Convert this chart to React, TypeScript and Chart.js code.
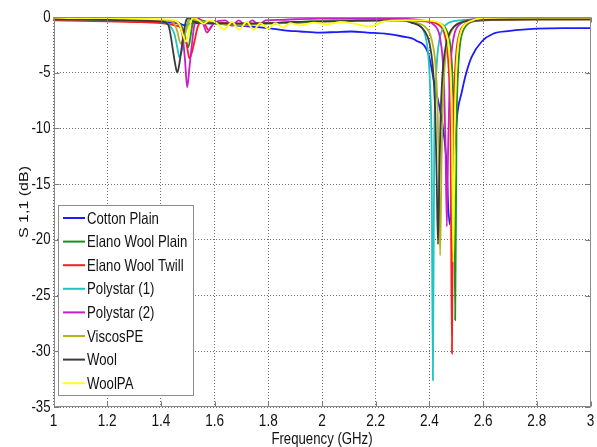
import React, { useEffect, useRef } from 'react';
import { Chart, registerables } from 'chart.js';

Chart.register(...registerables);

type Pt = [number, number]; // [frequency GHz, S11 dB]

const seriesNames = [
  'Cotton Plain',
  'Elano Wool Plain',
  'Elano Wool Twill',
  'Polystar (1)',
  'Polystar (2)',
  'ViscosPE',
  'Wool',
  'WoolPA',
];

const seriesColors = ['#1c1cff', '#1f8f1f', '#ff1c1c', '#1fc4c4', '#c81ec8', '#b4b41a', '#3a3a3a', '#ffff1a'];

const cottonPlain: Pt[] = [
  [1.0, -0.2], [1.1, -0.25], [1.2, -0.3], [1.3, -0.35], [1.38, -0.45], [1.44, -0.5], [1.47, -0.6],
  [1.49, -0.75], [1.51, -0.6], [1.54, -0.55], [1.6, -0.6], [1.7, -0.8], [1.8, -1.0], [1.86, -1.2],
  [1.92, -1.3], [1.99, -1.4], [2.05, -1.35], [2.11, -1.3], [2.17, -1.4], [2.235, -1.5], [2.3, -1.75],
  [2.35, -2.1], [2.396, -3.3], [2.421, -6.3], [2.446, -9.2], [2.462, -12.5], [2.475, -18.6],
  [2.49, -13.2], [2.505, -8.5], [2.52, -6.8], [2.533, -5.4], [2.557, -3.6], [2.595, -2.2],
  [2.637, -1.5], [2.7, -1.25], [2.8, -1.05], [2.9, -1.0], [3.0, -1.0],
];

const elanoWoolPlain: Pt[] = [
  [1.0, -0.15], [1.1, -0.2], [1.2, -0.2], [1.3, -0.25], [1.4, -0.3], [1.45, -0.35], [1.47, -0.6],
  [1.485, -1.3], [1.495, -2.3], [1.502, -2.7], [1.51, -1.8], [1.518, -0.6], [1.53, -0.1], [1.55, -0.3],
  [1.6, -0.5], [1.7, -0.6], [1.8, -0.55], [1.9, -0.45], [2.0, -0.35], [2.1, -0.3], [2.2, -0.3],
  [2.3, -0.3], [2.396, -0.4], [2.436, -0.55], [2.456, -0.85], [2.466, -1.3], [2.476, -2.2],
  [2.481, -3.3], [2.486, -5.4], [2.491, -10.2], [2.496, -27.2], [2.501, -10.1], [2.506, -5.3],
  [2.511, -3.2], [2.516, -2.1], [2.526, -1.2], [2.536, -0.8], [2.556, -0.45], [2.6, -0.3],
  [2.7, -0.2], [2.8, -0.15], [3.0, -0.15],
];

const elanoWoolTwill: Pt[] = [
  [1.0, -0.3], [1.1, -0.35], [1.2, -0.4], [1.3, -0.45], [1.4, -0.55], [1.45, -0.75], [1.475, -1.0],
  [1.49, -1.7], [1.499, -2.9], [1.506, -3.7], [1.515, -3.2], [1.525, -2.2], [1.537, -0.9],
  [1.55, -0.45], [1.565, -0.7], [1.578, -1.2], [1.59, -0.8], [1.6, -0.5], [1.7, -0.6], [1.8, -0.55],
  [1.9, -0.5], [2.0, -0.4], [2.1, -0.35], [2.2, -0.3], [2.3, -0.3], [2.384, -0.4], [2.424, -0.55],
  [2.444, -0.9], [2.454, -1.35], [2.464, -2.4], [2.469, -3.55], [2.474, -5.75], [2.479, -10.7],
  [2.484, -30.2], [2.489, -10.6], [2.494, -5.7], [2.499, -3.5], [2.504, -2.35], [2.514, -1.3],
  [2.524, -0.85], [2.544, -0.5], [2.6, -0.3], [2.7, -0.25], [2.8, -0.22], [3.0, -0.22],
];

const polystar1: Pt[] = [
  [1.0, -0.2], [1.1, -0.2], [1.2, -0.25], [1.3, -0.3], [1.4, -0.4], [1.43, -0.7], [1.45, -1.5],
  [1.46, -2.6], [1.469, -3.6], [1.478, -3.0], [1.488, -1.8], [1.5, -0.5], [1.51, -0.05], [1.525, -0.3],
  [1.55, -0.5], [1.6, -0.6], [1.7, -0.7], [1.8, -0.6], [1.9, -0.5], [2.0, -0.35], [2.1, -0.3],
  [2.2, -0.25], [2.313, -0.35], [2.353, -0.6], [2.373, -1.0], [2.383, -1.5], [2.393, -2.8],
  [2.398, -4.1], [2.403, -6.5], [2.408, -11.6], [2.413, -32.6], [2.418, -11.5], [2.423, -6.4],
  [2.428, -4.0], [2.433, -2.7], [2.443, -1.45], [2.453, -0.95], [2.473, -0.5], [2.513, -0.3],
  [2.6, -0.2], [2.8, -0.18], [3.0, -0.18],
];

const polystar2: Pt[] = [
  [1.0, -0.15], [1.1, -0.18], [1.2, -0.2], [1.3, -0.25], [1.4, -0.3], [1.45, -0.4], [1.47, -0.8],
  [1.48, -1.6], [1.489, -3.6], [1.498, -6.3], [1.506, -4.6], [1.514, -2.8], [1.524, -0.8],
  [1.539, -0.15], [1.555, -0.45], [1.572, -1.4], [1.586, -0.9], [1.6, -0.5], [1.64, -0.3],
  [1.665, -0.8], [1.69, -0.3], [1.715, -0.8], [1.74, -0.3], [1.765, -0.7], [1.79, -0.3], [1.85, -0.25],
  [1.9, -0.2], [2.0, -0.15], [2.1, -0.12], [2.2, -0.12], [2.3, -0.15], [2.365, -0.25], [2.405, -0.5],
  [2.425, -0.9], [2.435, -1.4], [2.445, -2.7], [2.45, -4.0], [2.455, -6.4], [2.46, -11.5],
  [2.465, -18.8], [2.47, -11.4], [2.475, -6.3], [2.48, -3.9], [2.485, -2.6], [2.495, -1.35],
  [2.505, -0.85], [2.525, -0.45], [2.565, -0.2], [2.7, -0.12], [2.8, -0.1], [3.0, -0.1],
];

const viscosPE: Pt[] = [
  [1.0, -0.12], [1.1, -0.15], [1.2, -0.2], [1.3, -0.22], [1.4, -0.3], [1.445, -0.45], [1.46, -1.2],
  [1.474, -2.4], [1.488, -1.6], [1.5, -0.8], [1.51, -0.05], [1.53, -0.3], [1.6, -0.55], [1.7, -0.7],
  [1.8, -0.6], [1.9, -0.5], [2.0, -0.4], [2.1, -0.35], [2.2, -0.3], [2.3, -0.3], [2.34, -0.45],
  [2.38, -0.8], [2.4, -1.4], [2.41, -2.2], [2.42, -3.6], [2.425, -5.2], [2.43, -7.9], [2.435, -13.3],
  [2.44, -21.4], [2.445, -13.2], [2.45, -7.8], [2.455, -5.1], [2.46, -3.5], [2.47, -2.1],
  [2.48, -1.35], [2.5, -0.7], [2.54, -0.35], [2.6, -0.25], [2.8, -0.2], [3.0, -0.2],
];

const wool: Pt[] = [
  [1.0, -0.2], [1.1, -0.2], [1.2, -0.25], [1.3, -0.3], [1.4, -0.4], [1.427, -0.7], [1.436, -1.6],
  [1.445, -3.0], [1.453, -4.2], [1.461, -5.0], [1.468, -4.3], [1.476, -3.0], [1.485, -1.4],
  [1.494, -0.3], [1.505, -0.05], [1.52, -0.4], [1.55, -0.5], [1.6, -0.55], [1.7, -0.6], [1.8, -0.55],
  [1.9, -0.45], [2.0, -0.4], [2.1, -0.35], [2.2, -0.3], [2.3, -0.3], [2.332, -0.5], [2.372, -0.95],
  [2.392, -1.7], [2.402, -2.55], [2.412, -4.3], [2.417, -6.0], [2.422, -8.8], [2.427, -14.3],
  [2.432, -20.4], [2.437, -14.2], [2.442, -8.7], [2.447, -5.9], [2.452, -4.2], [2.462, -2.45],
  [2.472, -1.6], [2.492, -0.85], [2.532, -0.4], [2.6, -0.25], [2.8, -0.2], [3.0, -0.2],
];

const woolPA: Pt[] = [
  [1.0, -0.05], [1.1, -0.1], [1.2, -0.1], [1.3, -0.15], [1.4, -0.2], [1.45, -0.3], [1.47, -0.7],
  [1.482, -1.6], [1.493, -2.2], [1.503, -1.4], [1.512, -0.4], [1.522, -0.05], [1.54, -0.3],
  [1.56, -0.6], [1.58, -0.3], [1.605, -0.5], [1.635, -1.1], [1.666, -0.45], [1.69, -1.15],
  [1.72, -0.45], [1.746, -1.15], [1.77, -0.55], [1.8, -1.05], [1.826, -0.55], [1.857, -0.95],
  [1.88, -0.55], [1.92, -0.75], [1.97, -0.5], [2.02, -0.65], [2.07, -0.45], [2.12, -0.6],
  [2.18, -0.85], [2.23, -0.4], [2.3, -0.3], [2.389, -0.3], [2.429, -0.45], [2.449, -0.75],
  [2.459, -1.2], [2.469, -2.1], [2.474, -3.2], [2.479, -5.3], [2.484, -10.2], [2.489, -22],
  [2.494, -10.2], [2.499, -5.3], [2.504, -3.2], [2.509, -2.1], [2.519, -1.2], [2.529, -0.75],
  [2.549, -0.4], [2.6, -0.1], [2.7, -0.05], [2.8, -0.05], [3.0, -0.05],
];

const seriesData: Pt[][] = [
  cottonPlain, elanoWoolPlain, elanoWoolTwill, polystar1, polystar2, viscosPE, wool, woolPA,
];

const freqTicks = [1, 1.2, 1.4, 1.6, 1.8, 2, 2.2, 2.4, 2.6, 2.8, 3];
const dbTicks = [0, -5, -10, -15, -20, -25, -30, -35];

const xTitle = 'Frequency (GHz)';
const yTitle = 'S 1,1 (dB)';

const FONT = '"Liberation Sans", Arial, Helvetica, sans-serif';
const SQUEEZE = 0.8;

function squeezedText(
  ctx: CanvasRenderingContext2D,
  text: string,
  x: number,
  y: number,
  align: CanvasTextAlign,
  size: number,
) {
  ctx.save();
  ctx.translate(x, y);
  ctx.scale(SQUEEZE, 1);
  ctx.font = `${size}px ${FONT}`;
  ctx.textAlign = align;
  ctx.textBaseline = 'middle';
  ctx.fillText(text, 0, 0);
  ctx.restore();
}

// Frame, inward ticks, labels and the boxed legend in the lower-left corner.
const framePlugin = {
  id: 'matlabFrame',
  afterDraw(chart: any) {
    const { ctx, chartArea: a, scales } = chart;
    const xs = scales.x;
    const ys = scales.y;
    const L = Math.round(a.left) + 0.5;
    const R = Math.round(a.right) - 0.5;
    const T = Math.round(a.top) + 0.5;
    const B = Math.round(a.bottom) - 0.5;
    ctx.save();

    // inward tick marks
    ctx.strokeStyle = '#7a7a7a';
    ctx.lineWidth = 1;
    ctx.beginPath();
    freqTicks.forEach((v) => {
      const px = Math.round(xs.getPixelForValue(v)) + 0.5;
      ctx.moveTo(px, B);
      ctx.lineTo(px, B - 5);
      ctx.moveTo(px, T);
      ctx.lineTo(px, T + 5);
    });
    dbTicks.forEach((v) => {
      const py = Math.round(ys.getPixelForValue(v)) + 0.5;
      ctx.moveTo(L, py);
      ctx.lineTo(L + 5, py);
      ctx.moveTo(R, py);
      ctx.lineTo(R - 5, py);
    });
    ctx.stroke();

    // axes box
    ctx.strokeStyle = '#8a8a8a';
    ctx.strokeRect(L, T, R - L, B - T);

    // tick labels
    ctx.fillStyle = '#111111';
    dbTicks.forEach((v) => {
      squeezedText(ctx, String(v), a.left - 3, ys.getPixelForValue(v), 'right', 16.5);
    });
    freqTicks.forEach((v) => {
      squeezedText(ctx, String(Number(v.toFixed(1))), xs.getPixelForValue(v), 421, 'center', 17);
    });

    // axis titles
    squeezedText(ctx, xTitle, (a.left + a.right) / 2, 439, 'center', 16.5);
    ctx.save();
    ctx.translate(24, 202);
    ctx.rotate(-Math.PI / 2);
    ctx.scale(1, SQUEEZE);
    ctx.font = `16px ${FONT}`;
    ctx.textAlign = 'center';
    ctx.textBaseline = 'middle';
    ctx.fillText(yTitle, 0, 0);
    ctx.restore();

    // legend
    const bx = 58.5;
    const by = 205.5;
    const bw = 135;
    const bh = 190;
    ctx.fillStyle = '#ffffff';
    ctx.fillRect(bx, by, bw, bh);
    ctx.strokeStyle = '#8c8c8c';
    ctx.lineWidth = 1;
    ctx.strokeRect(bx, by, bw, bh);
    seriesNames.forEach((name, i) => {
      const rowY = 218 + i * 23.6;
      ctx.strokeStyle = seriesColors[i];
      ctx.lineWidth = 2;
      ctx.beginPath();
      ctx.moveTo(63, rowY);
      ctx.lineTo(85, rowY);
      ctx.stroke();
      ctx.fillStyle = '#111111';
      squeezedText(ctx, name, 87, rowY + 1, 'left', 16.5);
    });

    ctx.restore();
  },
};

export default function App() {
  const canvasRef = useRef<HTMLCanvasElement | null>(null);

  useEffect(() => {
    const canvas = canvasRef.current;
    if (!canvas) return;

    const datasets = seriesNames.map((name, i) => ({
      label: name,
      data: seriesData[i].map(([x, y]) => ({ x, y })),
      borderColor: seriesColors[i],
      backgroundColor: seriesColors[i],
      borderWidth: 1.8,
      pointRadius: 0,
      fill: false,
      cubicInterpolationMode: 'monotone' as const,
      order: -i,
    }));

    const chart = new Chart(canvas, {
      type: 'line',
      data: { datasets },
      options: {
        responsive: false,
        animation: false,
        events: [],
        layout: { padding: { top: 17, right: 6.5, left: 0, bottom: 0 } },
        plugins: {
          legend: { display: false },
          tooltip: { enabled: false },
          title: { display: false },
        },
        scales: {
          x: {
            type: 'linear',
            min: 1,
            max: 3,
            afterBuildTicks: (scale: any) => {
              scale.ticks = freqTicks.map((value) => ({ value }));
            },
            afterFit: (scale: any) => {
              scale.height = 40;
            },
            ticks: { display: false },
            border: { display: false, dash: [1, 2] },
            grid: { color: '#6e6e6e', lineWidth: 1, drawTicks: false },
          },
          y: {
            type: 'linear',
            min: -35,
            max: 0,
            afterBuildTicks: (scale: any) => {
              scale.ticks = dbTicks.map((value) => ({ value }));
            },
            afterFit: (scale: any) => {
              scale.width = 53.5;
            },
            ticks: { display: false },
            border: { display: false, dash: [1, 2] },
            grid: { color: '#6e6e6e', lineWidth: 1, drawTicks: false },
          },
        },
      },
      plugins: [framePlugin],
    });

    return () => chart.destroy();
  }, []);

  return (
    <div
      style={{
        position: 'fixed',
        left: 0,
        top: 0,
        width: 597,
        height: 447,
        background: '#ffffff',
        overflow: 'hidden',
      }}
    >
      <canvas ref={canvasRef} width={597} height={447} style={{ display: 'block' }} />
    </div>
  );
}
